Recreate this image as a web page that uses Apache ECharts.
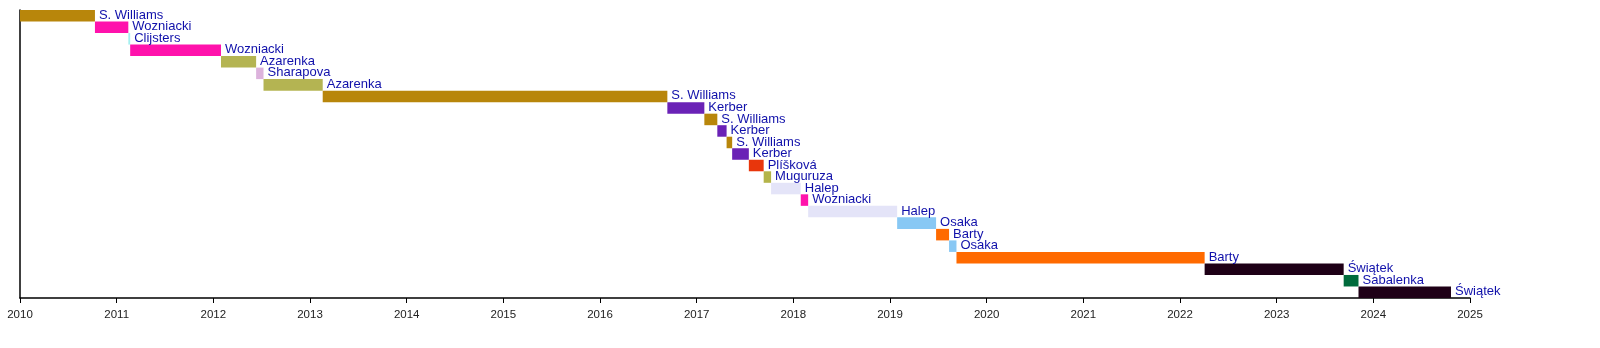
<!DOCTYPE html>
<html>
<head>
<meta charset="utf-8">
<script src="https://cdn.jsdelivr.net/npm/echarts@6/dist/echarts.min.js"></script>
<style>
  html, body { margin: 0; padding: 0; background: #ffffff; }
  #chart { width: 1600px; height: 348px; }
</style>
</head>
<body>
<div id="chart"></div>
<script>
// Reign periods of WTA world No. 1 (rows top to bottom)
const players = ["S. Williams","Wozniacki","Clijsters","Wozniacki","Azarenka","Sharapova","Azarenka",
  "S. Williams","Kerber","S. Williams","Kerber","S. Williams","Kerber","Plíšková","Muguruza","Halep",
  "Wozniacki","Halep","Osaka","Barty","Osaka","Barty","Świątek","Sabalenka","Świątek"];
const startDates = ["2010-01-01","2010-10-11","2011-02-14","2011-02-21","2012-01-30","2012-06-11","2012-07-09",
  "2013-02-18","2016-09-12","2017-01-30","2017-03-20","2017-04-24","2017-05-15","2017-07-17","2017-09-11","2017-10-09",
  "2018-01-29","2018-02-26","2019-01-28","2019-06-24","2019-08-12","2019-09-09","2022-04-04","2023-09-11","2023-11-06"];
const endDates = ["2010-10-11","2011-02-14","2011-02-21","2012-01-30","2012-06-11","2012-07-09","2013-02-18",
  "2016-09-12","2017-01-30","2017-03-20","2017-04-24","2017-05-15","2017-07-17","2017-09-11","2017-10-09","2018-01-29",
  "2018-02-26","2019-01-28","2019-06-24","2019-08-12","2019-09-09","2022-04-04","2023-09-11","2023-11-06","2024-10-21"];
const yearTicks = [2010,2011,2012,2013,2014,2015,2016,2017,2018,2019,2020,2021,2022,2023,2024,2025];
const playerColors = {
  "S. Williams": "#b8860b",
  "Wozniacki": "#ff12ac",
  "Clijsters": "#a4f0f0",
  "Azarenka": "#b4b452",
  "Sharapova": "#dcb2dc",
  "Kerber": "#6a22b6",
  "Plíšková": "#e8360c",
  "Muguruza": "#b4b44a",
  "Halep": "#e4e4f8",
  "Osaka": "#88c8f4",
  "Barty": "#ff6a00",
  "Świątek": "#1e0016",
  "Sabalenka": "#006b3c"
};

// convert "YYYY-MM-DD" to a fractional year for a linear axis
function toYear(s) {
  const [y, m, d] = s.split("-").map(Number);
  const t = Date.UTC(y, m - 1, d);
  const t0 = Date.UTC(y, 0, 1), t1 = Date.UTC(y + 1, 0, 1);
  return y + (t - t0) / (t1 - t0);
}

const rows = players.map((p, i) => [i, toYear(startDates[i]), toYear(endDates[i]), p]);

const chart = echarts.init(document.getElementById('chart'), null, { renderer: 'canvas' });
chart.setOption({
  animation: false,
  backgroundColor: '#ffffff',
  grid: { left: 20, right: 130, top: 10, bottom: 50, containLabel: false },
  xAxis: {
    type: 'value',
    min: yearTicks[0],
    max: yearTicks[yearTicks.length - 1],
    interval: 1,
    axisLine: { show: true, lineStyle: { color: '#000', width: 1.5 } },
    axisTick: { show: true, length: 5, lineStyle: { color: '#000', width: 1 } },
    axisLabel: {
      show: true, margin: 11, color: '#222',
      fontFamily: '"Liberation Sans Narrow", "Liberation Sans", Arial, sans-serif',
      fontSize: 11.5,
      formatter: v => String(v)
    },
    splitLine: { show: false }
  },
  yAxis: {
    type: 'category',
    data: players.map((p, i) => i),
    inverse: true,
    axisLine: { show: true, onZero: false, lineStyle: { color: '#000', width: 1.5 } },
    axisTick: { show: false },
    axisLabel: { show: false },
    splitLine: { show: false }
  },
  series: [{
    type: 'custom',
    clip: false,
    encode: { x: [1, 2], y: 0 },
    data: rows,
    renderItem: function (params, api) {
      const row = api.value(0);
      const s = api.coord([api.value(1), row]);
      const e = api.coord([api.value(2), row]);
      const h = api.size([0, 1])[1];
      const name = players[row];
      return {
        type: 'group',
        children: [
          {
            type: 'rect',
            shape: { x: s[0], y: s[1] - h / 2, width: e[0] - s[0], height: h },
            style: { fill: playerColors[name] }
          },
          {
            type: 'text',
            z2: 10,
            style: {
              x: e[0] + 4, y: s[1] - 0.5,
              text: name,
              fill: '#1010aa',
              font: '13px "Liberation Sans", Arial, sans-serif',
              verticalAlign: 'middle', align: 'left'
            }
          }
        ]
      };
    }
  }]
});
</script>
</body>
</html>
